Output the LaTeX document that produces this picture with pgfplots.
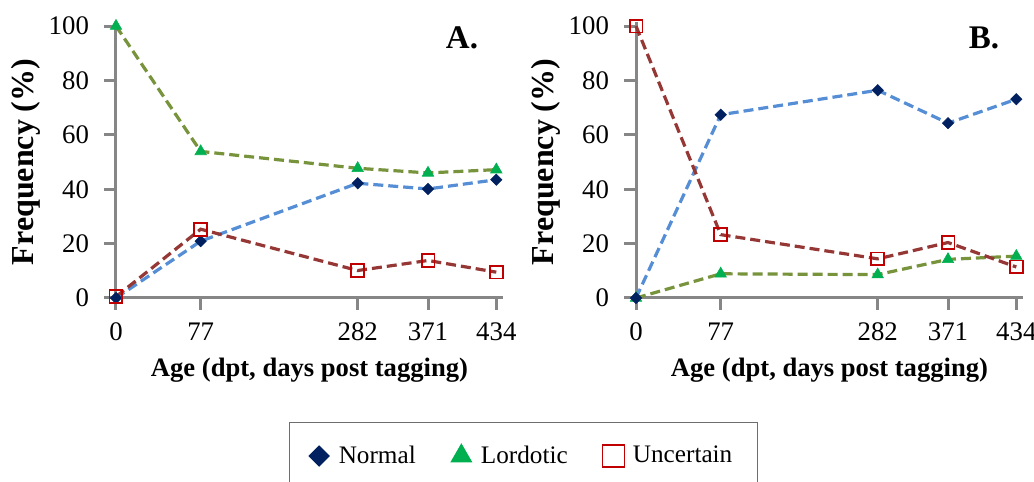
\documentclass[border=0pt]{standalone}
\usepackage{fontspec}
\setmainfont{Liberation Serif}
\usepackage{pgfplots}
\pgfplotsset{compat=1.18}

\definecolor{normline}{RGB}{85,142,213}
\definecolor{normmark}{RGB}{0,32,96}
\definecolor{lordline}{RGB}{119,147,60}
\definecolor{lordmark}{RGB}{0,176,80}
\definecolor{uncline}{RGB}{149,55,53}
\definecolor{uncmark}{RGB}{192,0,0}
\definecolor{axgray}{RGB}{134,134,134}
\definecolor{leggray}{RGB}{110,110,110}

% x positions follow the spacing of the original chart
\pgfplotsset{
  panel/.style={
    scale only axis, width=193.5pt, height=138pt,
    xmin=0, xmax=387, ymin=0, ymax=101.5,
    axis lines=left,
    axis line style={-, axgray, line width=1.5pt},
    tick style={axgray, line width=1.5pt},
    major tick length=6pt, tick align=outside,
    xtick={0,84.7,241.7,312,380.3},
    xticklabels={0,77,282,371,434},
    ytick={0,20,40,60,80,100},
    tick label style={font=\fontsize{13.4}{15}\selectfont},
    yticklabel style={xshift=-4pt},
    xticklabel style={yshift=-3pt},
    /pgf/number format/assume math mode=true,
    clip=false,
    xlabel={Age (dpt, days post tagging)},
    ylabel={Frequency (\%)},
    xlabel style={font=\bfseries\fontsize{13.3}{15}\selectfont,
      at={(axis description cs:0.5,-0.283)}, anchor=base},
    ylabel style={font=\bfseries\fontsize{16}{18}\selectfont,
      at={(axis description cs:-0.212,0.493)}, anchor=base},
  },
  lnorm/.style={normline, line width=1.6pt, dash pattern=on 5pt off 2.5pt,
    mark=square*, mark size=2pt,
    mark options={solid, rotate=45, fill=normmark, draw=normmark, line width=0.3pt}},
  llord/.style={lordline, line width=1.6pt, dash pattern=on 5pt off 2.5pt,
    mark=triangle*, mark size=3.3pt,
    mark options={solid, fill=lordmark, draw=lordmark, line width=0.3pt}},
  lunc/.style={uncline, line width=1.6pt, dash pattern=on 5pt off 2.5pt,
    mark=square, mark size=3.2pt,
    mark options={solid, draw=uncmark, line width=0.9pt}},
}

\begin{document}
\begin{tikzpicture}
\path[use as bounding box] (0,0) rectangle (517pt,241pt);

\begin{axis}[panel, at={(58pt,92pt)}, anchor=south west,
  legend columns=3,
  legend image code/.code={\path (-11.5pt,0pt) (7.5pt,0pt); \draw[#1] plot coordinates {(0pt,0pt)};},
  legend style={at={(axis description cs:0.447,-0.450)}, anchor=north west,
    draw=leggray, line width=0.6pt, inner ysep=9.5pt,
    font=\fontsize{12.6}{14}\selectfont,
    /tikz/every even column/.append style={column sep=9pt}},
]
\addlegendimage{only marks, mark=square*, mark size=3.5pt, mark options={rotate=45, fill=normmark, draw=normmark}}
\addlegendentry{Normal}
\addlegendimage{only marks, mark=triangle*, mark size=5.8pt, mark options={fill=lordmark, draw=lordmark}}
\addlegendentry{Lordotic}
\addlegendimage{only marks, mark=square, mark size=5.5pt, mark options={draw=uncmark, line width=0.8pt}}
\addlegendentry{Uncertain\rule{7.5pt}{0pt}}

\addplot[llord, forget plot] coordinates {(0,100) (84.7,53.9) (241.7,47.7) (312,46.0) (380.3,47.2)};
\addplot[lnorm, forget plot] coordinates {(0,0) (84.7,20.9) (241.7,42.2) (312,40.1) (380.3,43.5)};
\addplot[lunc, forget plot] coordinates {(0,0.5) (84.7,25.3) (241.7,10.1) (312,13.8) (380.3,9.5)};
\end{axis}

\begin{axis}[panel, at={(318pt,92pt)}, anchor=south west]
\addplot[llord] coordinates {(0,0) (84.7,8.9) (241.7,8.6) (312,14.2) (380.3,15.4)};
\addplot[lnorm] coordinates {(0,0) (84.7,67.4) (241.7,76.4) (312,64.3) (380.3,73.1)};
\addplot[lunc] coordinates {(0,100) (84.7,23.3) (241.7,14.4) (312,20.4) (380.3,11.4)};
\end{axis}

\node[font=\bfseries\fontsize{16.5}{18}\selectfont] at (231pt,222pt) {A.};
\node[font=\bfseries\fontsize{16.5}{18}\selectfont] at (492pt,222pt) {B.};
\end{tikzpicture}
\end{document}
